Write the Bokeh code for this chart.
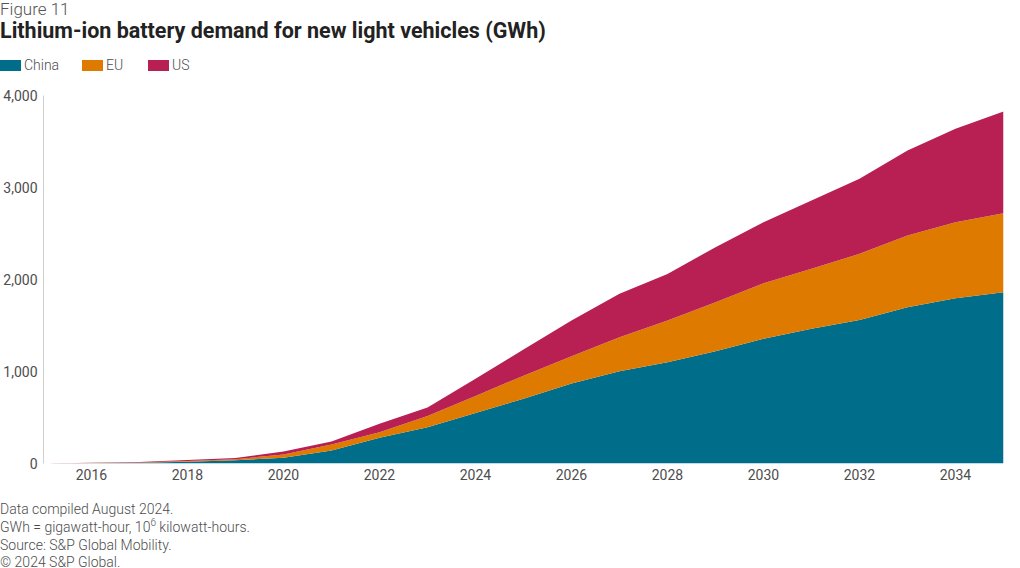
from bokeh.plotting import figure
from bokeh.models import (ColumnDataSource, FixedTicker, NumeralTickFormatter, Range1d, Div)
from bokeh.layouts import column
from bokeh.embed import file_html
from bokeh.resources import INLINE

years = list(range(2015, 2036))
china = [0, 3, 8, 18, 35, 62, 140, 280, 395, 550, 705, 870, 1003, 1101, 1221, 1355, 1464, 1561, 1699, 1797, 1862]
eu = [0, 2, 4, 9, 12, 36, 66, 60, 120, 185, 250, 295, 370, 453, 533, 605, 652, 718, 779, 826, 859]
us = [0, 2, 5, 10, 14, 32, 33, 91, 93, 185, 285, 389, 471, 507, 597, 663, 743, 815, 924, 1015, 1105]
series = ["China", "EU", "US"]
colors = ["#006E8A", "#DE7A00", "#B81F52"]
x_ticks = list(range(2016, 2035, 2))
y_ticks = [0, 1000, 2000, 3000, 4000]

fig_label = "Figure 11"
title = "Lithium-ion battery demand for new light vehicles (GWh)"
notes = ["Data compiled August 2024.",
         "GWh = gigawatt-hour, 10<sup style='font-size:10px;line-height:0'>6</sup> kilowatt-hours.",
         "Source: S&amp;P Global Mobility.",
         "&copy; 2024 S&amp;P Global."]

FONT = "Roboto"
GRAY = "#4d4d4d"
HEAD_H = 85
FIG_H = 410
FOOT_H = 568 - HEAD_H - FIG_H

# ---- header (figure number, title, legend)
leg_x = [0, 82, 148]
leg_html = ""
for name, c, lx in zip(series, colors, leg_x):
    leg_html += (f"<div style='position:absolute;left:{lx}px;top:60px;width:21px;height:11px;"
                 f"background:{c}'></div>"
                 f"<div style='position:absolute;left:{lx + 24}px;top:57px;line-height:16px;"
                 f"font-size:14px;font-weight:300;color:{GRAY};white-space:nowrap'>{name}</div>")
head_html = (f"<div style='position:relative;width:1020px;height:{HEAD_H}px;font-family:{FONT};'>"
             f"<div style='position:absolute;left:0;top:0;line-height:18px;font-size:17px;"
             f"font-weight:300;color:#555555;white-space:nowrap'>{fig_label}</div>"
             f"<div style='position:absolute;left:0;top:18px;line-height:26px;font-size:21.5px;"
             f"font-weight:700;color:#222222;white-space:nowrap'>{title}</div>"
             f"{leg_html}</div>")
head = Div(text=head_html, width=1020, height=HEAD_H, margin=0)

# ---- chart
src = ColumnDataSource(dict(year=years, China=china, EU=eu, US=us))
p = figure(width=1020, height=FIG_H, output_backend="svg", toolbar_location=None,
           x_range=Range1d(2015, 2035), y_range=Range1d(0, 4000),
           min_border_left=43, min_border_right=17, min_border_top=10, min_border_bottom=32)
p.outline_line_color = None
p.xgrid.visible = False
p.ygrid.visible = False
p.varea_stack(stackers=series, x="year", color=colors, source=src)

p.xaxis.ticker = FixedTicker(ticks=x_ticks)
p.yaxis.ticker = FixedTicker(ticks=y_ticks)
p.yaxis.formatter = NumeralTickFormatter(format="0,0")
for ax in (p.xaxis[0], p.yaxis[0]):
    ax.major_tick_line_color = None
    ax.minor_tick_line_color = None
    ax.major_tick_out = 0
    ax.major_tick_in = 0
    ax.minor_tick_out = 0
    ax.minor_tick_in = 0
    ax.major_label_text_font = FONT
    ax.major_label_text_font_size = "14px"
    ax.major_label_text_color = GRAY
p.xaxis.axis_line_color = None
p.xaxis.major_label_standoff = 5
p.yaxis.axis_line_color = "#d0d0d0"
p.yaxis.major_label_standoff = 6

# ---- footer
foot_tops = [6, 24, 42, 59]
foot_html = f"<div style='position:relative;width:1020px;height:{FOOT_H}px;font-family:{FONT};'>"
for t, top in zip(notes, foot_tops):
    foot_html += (f"<div style='position:absolute;left:0;top:{top}px;line-height:16px;font-size:14px;"
                  f"font-weight:300;color:{GRAY};white-space:nowrap'>{t}</div>")
foot_html += "</div>"
foot = Div(text=foot_html, width=1020, height=FOOT_H, margin=0)

layout = column(head, p, foot, spacing=0)
open("out.html", "w").write(file_html(layout, INLINE))
